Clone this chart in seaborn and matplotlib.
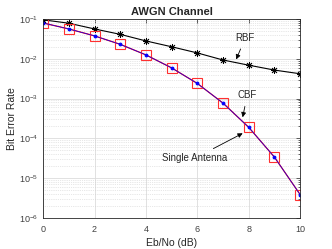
import matplotlib
matplotlib.use("Agg")
import matplotlib.pyplot as plt
import seaborn as sns
import numpy as np
import pandas as pd

# Eb/No points (dB)
ebno = [0, 1, 2, 3, 4, 5, 6, 7, 8, 9, 10]
# BER
ber_rbf = [0.095, 0.078, 0.056, 0.041, 0.028, 0.020, 0.014, 0.0093, 0.0069, 0.0052, 0.0042]
ber_single = [7.9e-2, 5.6e-2, 3.75e-2, 2.3e-2, 1.25e-2, 5.9e-3, 2.4e-3, 7.7e-4, 1.9e-4, 3.4e-5, 3.9e-6]
ber_cbf = [7.9e-2, 5.6e-2, 3.75e-2, 2.3e-2, 1.25e-2, 5.9e-3, 2.4e-3, 7.7e-4, 1.9e-4, 3.4e-5, 3.9e-6]

df = pd.DataFrame({'ebno': ebno, 'rbf': ber_rbf, 'single': ber_single, 'cbf': ber_cbf})

sns.set_style("white")
plt.rcParams['font.family'] = ['Liberation Sans', 'DejaVu Sans']
plt.rcParams['mathtext.fontset'] = 'custom'
plt.rcParams['mathtext.rm'] = 'Liberation Sans'

fig = plt.figure(figsize=(3.32, 2.49), dpi=100)
ax = fig.add_axes([0.13, 0.124, 0.774, 0.8])

# grid first (MATLAB look)
ax.set_yscale('log')
ax.grid(True, which='major', color='#dcdcdc', linewidth=0.6, linestyle='-')
ax.grid(True, which='minor', axis='y', color='#d0d0d0', linewidth=0.5, linestyle=':')
ax.set_axisbelow(True)

sns.lineplot(data=df, x='ebno', y='rbf', ax=ax, color='black', linewidth=0.8,
             marker=(8, 2, 0), markersize=5, markeredgecolor='black', markeredgewidth=0.6)
sns.lineplot(data=df, x='ebno', y='single', ax=ax, color='red', linewidth=0.9,
             marker='s', markersize=7, markerfacecolor='none', markeredgecolor='#ff3030',
             markeredgewidth=0.8)
sns.lineplot(data=df, x='ebno', y='cbf', ax=ax, color='blue', linewidth=0.5,
             marker='.', markersize=4, markeredgecolor='blue')

ax.set_xlim(0, 10)
ax.set_ylim(1e-6, 1e-1)
ax.set_xticks([0, 2, 4, 6, 8, 10])
ax.set_yticks([1e-6, 1e-5, 1e-4, 1e-3, 1e-2, 1e-1])
ax.tick_params(axis='both', which='both', direction='in', top=True, right=True,
               labelsize=6.5, colors='#262626', labelcolor='#404040', length=3, width=0.5)
ax.tick_params(axis='x', pad=5)
ax.tick_params(axis='y', which='minor', length=1.5)
for s in ax.spines.values():
    s.set_color('#262626')
    s.set_linewidth(0.6)

ax.set_title('AWGN Channel', fontsize=8, fontweight='bold', pad=3)
ax.set_xlabel('Eb/No (dB)', fontsize=7.5, labelpad=3)
ax.set_ylabel('Bit Error Rate', fontsize=7.5)
ax.yaxis.set_label_coords(-0.10, 0.5)

arw = dict(arrowstyle='-|>', color='black', lw=0.6, mutation_scale=7)
ax.annotate('RBF', xy=(7.47, 0.0083), xytext=(7.86, 0.033), fontsize=7,
            ha='center', va='center', arrowprops=arw)
ax.annotate('CBF', xy=(7.74, 2.9e-4), xytext=(7.94, 1.2e-3), fontsize=7,
            ha='center', va='center', arrowprops=arw)
ax.annotate('Single Antenna', xy=(7.86, 1.45e-4), xytext=(5.91, 3.2e-5), fontsize=7,
            ha='center', va='center', arrowprops=arw)

fig.savefig('out.png', dpi=100)
